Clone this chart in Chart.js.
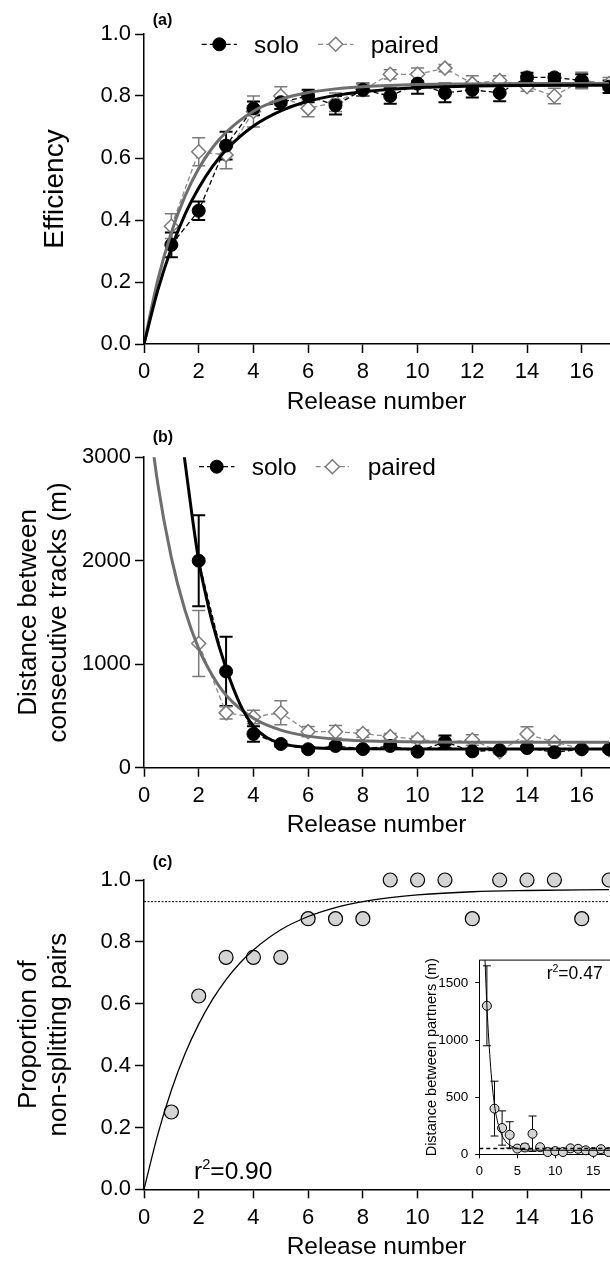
<!DOCTYPE html>
<html>
<head>
<meta charset="utf-8">
<script src="https://cdn.jsdelivr.net/npm/chart.js@4.4.1/dist/chart.umd.min.js"></script>
<style>
  html, body { margin: 0; padding: 0; background: #fff; }
  #fig { position: relative; width: 610px; height: 1261px; overflow: hidden; background: #fff; }
  canvas { position: absolute; left: 0; }
</style>
</head>
<body>
<div id="fig">
  <canvas id="panelA" width="610" height="430" style="top:0px"></canvas>
  <canvas id="panelB" width="610" height="440" style="top:410px"></canvas>
  <canvas id="panelC" width="610" height="426" style="top:835px"></canvas>
  <canvas id="inset" width="250" height="240" style="left:395px;top:945px"></canvas>
</div>
<script>
const FONT = "'Liberation Sans', Arial, sans-serif";

// ---- data ----
const releases = [1, 2, 3, 4, 5, 6, 7, 8, 9, 10, 11, 12, 13, 14, 15, 16, 17];
const distReleases = [2, 3, 4, 5, 6, 7, 8, 9, 10, 11, 12, 13, 14, 15, 16, 17];

// tick values
const releaseTicks = [0, 2, 4, 6, 8, 10, 12, 14, 16];
const fracTicks = [0, 0.2, 0.4, 0.6, 0.8, 1.0];
const distTicks = [0, 1000, 2000, 3000];
const insetXTicks = [0, 5, 10, 15, 20];
const insetYTicks = [0, 500, 1000, 1500];

// (a) efficiency
const soloEff = [0.32, 0.43, 0.64, 0.76, 0.78, 0.80, 0.77, 0.82, 0.80, 0.84, 0.81, 0.82, 0.81, 0.86, 0.86, 0.85, 0.83];
const soloEffErr = [0.04, 0.03, 0.045, 0.022, 0.022, 0.02, 0.03, 0.02, 0.025, 0.033, 0.03, 0.025, 0.027, 0.015, 0.012, 0.02, 0.02];
const pairedEff = [0.38, 0.62, 0.61, 0.75, 0.80, 0.76, 0.78, 0.82, 0.87, 0.87, 0.89, 0.84, 0.85, 0.83, 0.80, 0.85, 0.84];
const pairedEffErr = [0.04, 0.045, 0.045, 0.05, 0.03, 0.027, 0.03, 0.02, 0.015, 0.02, 0.012, 0.025, 0.015, 0.015, 0.025, 0.027, 0.02];
const effFitX = [0, 0.5, 1, 1.5, 2, 2.5, 3, 4, 5, 6, 7, 8, 10, 12, 14, 17];
const soloEffFit = [0, 0.172, 0.309, 0.418, 0.503, 0.572, 0.626, 0.703, 0.752, 0.783, 0.802, 0.814, 0.827, 0.832, 0.834, 0.835];
const pairedEffFit = [0, 0.205, 0.360, 0.477, 0.566, 0.633, 0.683, 0.751, 0.789, 0.811, 0.823, 0.830, 0.837, 0.839, 0.840, 0.840];

// (b) distance between consecutive tracks
const soloDist = [2000, 930, 326, 229, 178, 210, 180, 210, 155, 250, 158, 170, 190, 150, 178, 178];
const soloDistErr = [440, 335, 75, 25, 20, 25, 20, 25, 15, 60, 20, 15, 20, 15, 20, 20];
const pairedDist = [1200, 530, 490, 531, 348, 348, 330, 300, 274, 245, 268, 155, 326, 245, 185, 175];
const pairedDistErr = [320, 60, 65, 115, 50, 60, 35, 30, 30, 30, 50, 20, 70, 25, 20, 20];
const soloDistFitX = [1.3, 1.5, 1.75, 2, 2.25, 2.5, 3, 3.5, 4, 4.5, 5, 6, 7, 8, 10, 13, 17];
const soloDistFit = [3400, 2950, 2450, 2000, 1680, 1400, 960, 620, 400, 290, 235, 195, 185, 182, 180, 180, 180];
const pairedDistFitX = [0, 0.5, 1, 1.5, 2, 2.5, 3, 4, 5, 6, 7, 8, 10, 12, 17];
const pairedDistFit = [3770, 2750, 2030, 1520, 1150, 890, 700, 477, 363, 305, 275, 260, 249, 246, 245];

// (c) proportion of non-splitting pairs
const propPairs = [0.25, 0.625, 0.75, 0.75, 0.75, 0.875, 0.875, 0.875, 1, 1, 1, 0.875, 1, 1, 1, 0.875, 1];
const propFitX = [0, 0.5, 1, 1.5, 2, 2.5, 3, 3.5, 4, 5, 6, 7, 8, 9, 10, 12, 14, 17];
const propFit = [0, 0.176, 0.320, 0.438, 0.534, 0.613, 0.678, 0.731, 0.774, 0.839, 0.882, 0.911, 0.930, 0.943, 0.952, 0.962, 0.966, 0.969];
const propLevel = 0.93;

// (c) inset: distance between partners
const partnerDist = [1300, 400, 230, 170, 50, 60, 180, 62, 20, 28, 20, 52, 48, 35, 20, 45, 20];
const partnerDistErr = [350, 240, 150, 115, 10, 30, 155, 10, 5, 5, 5, 8, 8, 8, 5, 8, 5];
const partnerFitX = [0.7, 0.75, 1, 1.5, 2, 2.5, 3, 3.5, 4, 5, 6, 8, 12, 20];
const partnerFit = [1780, 1700, 1300, 760, 430, 260, 165, 110, 80, 50, 40, 36, 35, 35];
const partnerLevel = 50;

const pts = (xs, ys) => xs.map((x, i) => ({ x: x, y: ys[i] }));
const fixTicks = vals => s => { s.ticks = vals.map(v => ({ value: v })); };

// ---- plugins ----
const errorBars = {
  id: 'errorBars',
  beforeDatasetsDraw(chart) {
    const ctx = chart.ctx;
    const ys = chart.scales.y;
    chart.data.datasets.forEach((ds, i) => {
      if (!ds.errors) return;
      const meta = chart.getDatasetMeta(i);
      ctx.save();
      ctx.strokeStyle = ds.errorColor;
      ctx.lineWidth = ds.errorWidth;
      meta.data.forEach((pt, j) => {
        const e = ds.errors[j];
        if (!e) return;
        const v = ds.data[j].y;
        const top = ys.getPixelForValue(v + e);
        const bot = ys.getPixelForValue(v - e);
        const w = ds.capWidth / 2;
        ctx.beginPath();
        ctx.moveTo(pt.x, top); ctx.lineTo(pt.x, bot);
        ctx.moveTo(pt.x - w, top); ctx.lineTo(pt.x + w, top);
        ctx.moveTo(pt.x - w, bot); ctx.lineTo(pt.x + w, bot);
        ctx.stroke();
      });
      ctx.restore();
    });
  }
};

function marker(ctx, style, x, y, r, fill, stroke, lw) {
  ctx.beginPath();
  if (style === 'circle') {
    ctx.arc(x, y, r, 0, Math.PI * 2);
  } else {
    ctx.moveTo(x, y - r); ctx.lineTo(x + r, y); ctx.lineTo(x, y + r); ctx.lineTo(x - r, y); ctx.closePath();
  }
  ctx.fillStyle = fill; ctx.fill();
  ctx.strokeStyle = stroke; ctx.lineWidth = lw; ctx.stroke();
}

function rsq(ctx, x, y, size, value) {
  ctx.font = size + 'px ' + FONT;
  ctx.fillText('r', x, y);
  let w = ctx.measureText('r').width;
  ctx.font = (size * 0.6) + 'px ' + FONT;
  ctx.fillText('2', x + w, y - size * 0.42);
  w += ctx.measureText('2').width;
  ctx.font = size + 'px ' + FONT;
  ctx.fillText('=' + value, x + w, y);
}

const decor = {
  id: 'decor',
  afterDraw(chart, args, opts) {
    const ctx = chart.ctx;
    ctx.save();
    ctx.fillStyle = '#000';
    if (opts.label) {
      ctx.font = 'bold 16px ' + FONT;
      ctx.textBaseline = 'middle';
      ctx.fillText(opts.label.text, opts.label.x, opts.label.y);
    }
    ctx.textBaseline = 'alphabetic';
    (opts.legend || []).forEach(it => {
      ctx.save();
      ctx.setLineDash([5, 3]);
      ctx.strokeStyle = it.lineColor;
      ctx.lineWidth = 1.3;
      ctx.beginPath(); ctx.moveTo(it.x0, it.y); ctx.lineTo(it.x1, it.y); ctx.stroke();
      ctx.setLineDash([]);
      marker(ctx, it.style, (it.x0 + it.x1) / 2, it.y, it.r, it.fill, it.stroke, it.lw);
      ctx.restore();
      ctx.fillStyle = '#000';
      ctx.font = '24.5px ' + FONT;
      ctx.fillText(it.text, it.tx, it.ty);
    });
    if (opts.rsq) {
      ctx.fillStyle = '#000';
      rsq(ctx, opts.rsq.x, opts.rsq.y, opts.rsq.size, opts.rsq.value);
    }
    if (opts.frame) {
      const a = chart.chartArea;
      ctx.strokeStyle = '#000'; ctx.lineWidth = 1;
      ctx.beginPath();
      ctx.moveTo(a.left, a.top); ctx.lineTo(a.right, a.top); ctx.lineTo(a.right, a.bottom);
      ctx.stroke();
    }
    ctx.restore();
  }
};

const whiteArea = {
  id: 'whiteArea',
  beforeDraw(chart, args, opts) {
    if (!opts.on) return;
    const a = chart.chartArea;
    chart.ctx.save();
    chart.ctx.fillStyle = '#fff';
    chart.ctx.fillRect(a.left, a.top, a.right - a.left, a.bottom - a.top);
    chart.ctx.restore();
  }
};

// ---- scale builders ----
function xAxis(height, titlePad) {
  return {
    type: 'linear', min: 0, max: 17,
    afterBuildTicks: fixTicks(releaseTicks),
    ticks: { autoSkip: false, maxRotation: 0, color: '#000', font: { family: FONT, size: 22 }, padding: 6 },
    grid: { drawOnChartArea: false, drawTicks: true, tickLength: 9, tickWidth: 1.5, tickColor: '#000' },
    border: { display: true, color: '#000', width: 1.5 },
    title: { display: true, text: 'Release number', color: '#000', font: { family: FONT, size: 24.5, lineHeight: 1 }, padding: { top: 0, bottom: titlePad } },
    afterFit: s => { s.height = height; }
  };
}

function yAxis(max, tickVals, fmt, title, titleSize, lineH, titlePad) {
  return {
    type: 'linear', min: 0, max: max,
    afterBuildTicks: fixTicks(tickVals),
    ticks: { autoSkip: false, color: '#000', font: { family: FONT, size: 22 }, padding: 4, callback: fmt },
    grid: { drawOnChartArea: false, drawTicks: true, tickLength: 9, tickWidth: 1.5, tickColor: '#000' },
    border: { display: true, color: '#000', width: 1.5 },
    title: { display: true, text: title, color: '#000', font: { family: FONT, size: titleSize, lineHeight: lineH }, padding: { top: titlePad, bottom: 0 } },
    afterFit: s => { s.width = 144; }
  };
}

function baseOptions(pad, scales, decorOpts) {
  return {
    responsive: false, maintainAspectRatio: false, animation: false, devicePixelRatio: 1,
    events: [],
    layout: { padding: pad, autoPadding: false },
    scales: scales,
    plugins: { legend: { display: false }, tooltip: { enabled: false }, decor: decorOpts, whiteArea: { on: false } }
  };
}

const fitLine = (data, color, width) => ({
  data: data, showLine: true, borderColor: color, borderWidth: width, pointRadius: 0,
  cubicInterpolationMode: 'monotone', fill: false
});

const soloSeries = (data, errs) => ({
  data: data, showLine: true, borderColor: '#000', borderWidth: 1.3, borderDash: [5, 3],
  pointStyle: 'circle', pointRadius: 6.5, pointBackgroundColor: '#000', pointBorderColor: '#000', pointBorderWidth: 1,
  clip: false, errors: errs, errorColor: '#000', errorWidth: 2, capWidth: 13
});

const pairedSeries = (data, errs) => ({
  data: data, showLine: true, borderColor: '#8a8a8a', borderWidth: 1.3, borderDash: [5, 3],
  pointStyle: 'rectRot', pointRadius: 7, pointBackgroundColor: '#fff', pointBorderColor: '#7a7a7a', pointBorderWidth: 1.5,
  clip: false, errors: errs, errorColor: '#7a7a7a', errorWidth: 1.5, capWidth: 13
});

const GRAYFIT = '#6e6e6e';

// ---- panel (a) ----
new Chart(document.getElementById('panelA'), {
  type: 'scatter',
  data: { datasets: [
    fitLine(pts(effFitX, soloEffFit), '#000', 3),
    fitLine(pts(effFitX, pairedEffFit), GRAYFIT, 3),
    soloSeries(pts(releases, soloEff), soloEffErr),
    pairedSeries(pts(releases, pairedEff), pairedEffErr)
  ] },
  options: baseOptions({ left: 0, right: 0.9, top: 34, bottom: 0 }, {
    x: xAxis(86, 15.75),
    y: yAxis(1, fracTicks, v => v.toFixed(1), 'Efficiency', 28, 1, 41)
  }, {
    label: { text: '(a)', x: 152.7, y: 20.5 },
    legend: [
      { x0: 201.7, x1: 236.9, y: 44.3, style: 'circle', r: 6.5, fill: '#000', stroke: '#000', lw: 1, lineColor: '#000', text: 'solo', tx: 254, ty: 53.3 },
      { x0: 318, x1: 353.4, y: 44.3, style: 'diamond', r: 7, fill: '#fff', stroke: '#7a7a7a', lw: 1.5, lineColor: '#8a8a8a', text: 'paired', tx: 370.7, ty: 53.3 }
    ]
  }),
  plugins: [errorBars, decor, whiteArea]
});

// ---- panel (b) ----
new Chart(document.getElementById('panelB'), {
  type: 'scatter',
  data: { datasets: [
    fitLine(pts(soloDistFitX, soloDistFit), '#000', 3),
    fitLine(pts(pairedDistFitX, pairedDistFit), GRAYFIT, 3),
    soloSeries(pts(distReleases, soloDist), soloDistErr),
    pairedSeries(pts(distReleases, pairedDist), pairedDistErr)
  ] },
  options: baseOptions({ left: 0, right: 0.9, top: 47.2, bottom: 0 }, {
    x: xAxis(82.3, 12.05),
    y: yAxis(3000, distTicks, v => String(v), ['Distance between', 'consecutive tracks (m)'], 26, 1.154, 14)
  }, {
    label: { text: '(b)', x: 152.7, y: 28 },
    legend: [
      { x0: 199, x1: 234.4, y: 56.7, style: 'circle', r: 6.5, fill: '#000', stroke: '#000', lw: 1, lineColor: '#000', text: 'solo', tx: 251.7, ty: 65 },
      { x0: 315.7, x1: 349, y: 56.7, style: 'diamond', r: 7, fill: '#fff', stroke: '#7a7a7a', lw: 1.5, lineColor: '#8a8a8a', text: 'paired', tx: 367.7, ty: 65 }
    ]
  }),
  plugins: [errorBars, decor, whiteArea]
});

// ---- panel (c) ----
new Chart(document.getElementById('panelC'), {
  type: 'scatter',
  data: { datasets: [
    { data: pts([0, 17], [propLevel, propLevel]), showLine: true, borderColor: '#000', borderWidth: 1, borderDash: [2, 1.5], pointRadius: 0 },
    fitLine(pts(propFitX, propFit), '#000', 1.3),
    { data: pts(releases, propPairs), pointStyle: 'circle', pointRadius: 7, pointBackgroundColor: '#d4d4d4', pointBorderColor: '#000', pointBorderWidth: 1.2, clip: false }
  ] },
  options: baseOptions({ left: 0, right: 0.9, top: 45, bottom: 0 }, {
    x: xAxis(71.7, 1.45),
    y: yAxis(1, fracTicks, v => v.toFixed(1), ['Proportion of', 'non-splitting pairs'], 26, 1.154, 14)
  }, {
    label: { text: '(c)', x: 152.7, y: 28 },
    rsq: { x: 194, y: 344, size: 24.5, value: '0.90' }
  }),
  plugins: [errorBars, decor, whiteArea]
});

// ---- inset ----
const insetOpts = baseOptions({ left: 0, right: 13.7, top: 13, bottom: 0 }, {
  x: {
    type: 'linear', min: 0, max: 20,
    afterBuildTicks: fixTicks(insetXTicks),
    ticks: { autoSkip: false, maxRotation: 0, color: '#000', font: { family: FONT, size: 13 }, padding: 5 },
    grid: { drawOnChartArea: false, drawTicks: true, tickLength: 4, tickWidth: 1, tickColor: '#000' },
    border: { display: true, color: '#000', width: 1 },
    afterFit: s => { s.height = 30.7; }
  },
  y: {
    type: 'linear', min: 0, max: 1700,
    afterBuildTicks: fixTicks(insetYTicks),
    ticks: { autoSkip: false, color: '#000', font: { family: FONT, size: 13.5 }, padding: 7, callback: v => String(v) },
    grid: { drawOnChartArea: false, drawTicks: true, tickLength: 4, tickWidth: 1, tickColor: '#000' },
    border: { display: true, color: '#000', width: 1 },
    title: { display: true, text: 'Distance between partners (m)', color: '#000', font: { family: FONT, size: 14.5, lineHeight: 1 }, padding: { top: 29.75, bottom: 0 } },
    afterFit: s => { s.width = 84.3; }
  }
}, {
  rsq: { x: 151.7, y: 34.3, size: 17.5, value: '0.47' },
  frame: true
});
insetOpts.plugins.whiteArea = { on: true };

new Chart(document.getElementById('inset'), {
  type: 'scatter',
  data: { datasets: [
    fitLine(pts(partnerFitX, partnerFit), '#000', 1),
    { data: pts([0, 20], [partnerLevel, partnerLevel]), showLine: true, borderColor: '#000', borderWidth: 1.5, borderDash: [4, 3], pointRadius: 0 },
    { data: pts(releases, partnerDist), pointStyle: 'circle', pointRadius: 4.5, pointBackgroundColor: '#d4d4d4', pointBorderColor: '#000', pointBorderWidth: 1, clip: false,
      errors: partnerDistErr, errorColor: '#000', errorWidth: 1, capWidth: 8 }
  ] },
  options: insetOpts,
  plugins: [errorBars, decor, whiteArea]
});
</script>
</body>
</html>
